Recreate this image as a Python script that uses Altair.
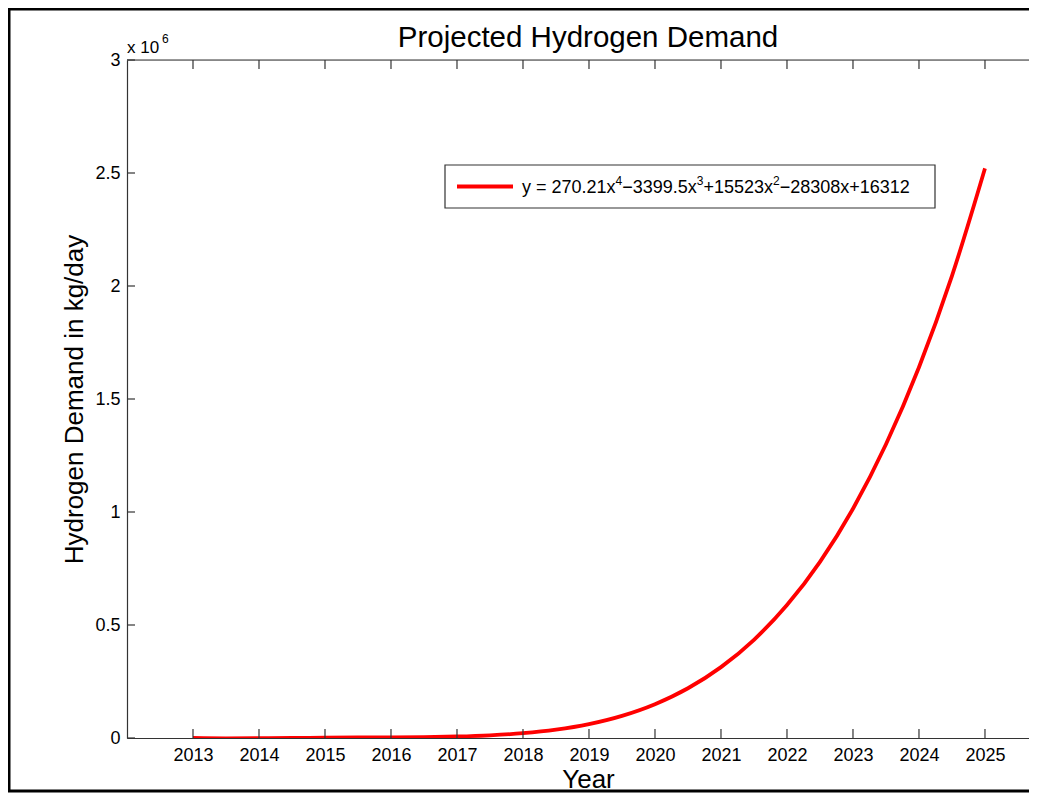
import altair as alt
import pandas as pd

# Values (kg/day)
years = [2013, 2013.5, 2014, 2014.5, 2015, 2015.5, 2016, 2016.5, 2017, 2017.5,
         2018, 2018.5, 2019, 2019.5, 2020, 2020.5, 2021, 2021.5, 2022, 2022.5,
         2023, 2023.5, 2024, 2024.5, 2025]
demand = [400, -1300, -1100, 0, 1200, 2200, 3100, 4300, 6800, 11900,
          21200, 36900, 61500, 98000, 149600, 220000, 313500, 434600, 588100, 779600,
          1014600, 1299500, 1640700, 2045200, 2520500]

# legend label pieces: (text, is_superscript)
label_parts = [("y = 270.21x", False), ("4", True), ("\u22123399.5x", False), ("3", True),
               ("+15523x", False), ("2", True), ("\u221228308x", False), ("+16312", False)]
title_text = "Projected Hydrogen Demand"
x_title = "Year"
y_title = "Hydrogen Demand in kg/day"
x_ticks = list(range(2013, 2026))
y_ticks = [0, 500000, 1000000, 1500000, 2000000, 2500000, 3000000]
x_domain = [2012, 2025.667]
y_domain = [0, 3000000]

W, H = 902, 678
FONT = "Liberation Sans"
AX = "#333333"
MAIN_FS, SUP_FS = 18, 12

# Arial/Liberation Sans advance widths (em)
CW = {"y": 0.5, "x": 0.5, " ": 0.278, "=": 0.584, "+": 0.584, "\u2212": 0.584, ".": 0.278}


def text_width(s, fs):
    return sum(CW.get(c, 0.556) for c in s) * fs


df = pd.DataFrame({"year": years, "demand": demand})
dfx = pd.DataFrame({"t": x_ticks})
dfy = pd.DataFrame({"t": y_ticks})
one = pd.DataFrame({"k": [0]})

xs = alt.Scale(domain=x_domain, nice=False, zero=False)
ys = alt.Scale(domain=y_domain, nice=False)

line = alt.Chart(df).mark_line(strokeWidth=3.8, clip=True, interpolate="monotone",
                               color="#ff0000").encode(
    x=alt.X("year:Q", scale=xs,
            axis=alt.Axis(values=x_ticks, format="d", ticks=False, grid=False,
                          domainColor=AX, domainWidth=1.2, labelFontSize=MAIN_FS,
                          labelFont=FONT, labelColor="black", labelPadding=8,
                          title=x_title, titleFont=FONT, titleFontSize=26,
                          titleFontWeight="normal", titleColor="black",
                          titlePadding=2, titleX=461)),
    y=alt.Y("demand:Q", scale=ys,
            axis=alt.Axis(values=y_ticks, labelExpr="datum.value / 1000000",
                          ticks=False, grid=False, domainColor=AX, domainWidth=1.2,
                          labelFontSize=MAIN_FS, labelFont=FONT, labelColor="black",
                          labelPadding=7, title=y_title, titleFont=FONT,
                          titleFontSize=26, titleFontWeight="normal",
                          titleColor="black", titlePadding=7)),
)

tick_bottom = alt.Chart(dfx).mark_rule(color=AX, strokeWidth=1.2).encode(
    x=alt.X("t:Q", scale=xs), y=alt.value(H), y2=alt.value(H - 9))
tick_top = alt.Chart(dfx).mark_rule(color=AX, strokeWidth=1.2).encode(
    x=alt.X("t:Q", scale=xs), y=alt.value(0), y2=alt.value(9))
tick_left = alt.Chart(dfy).mark_rule(color=AX, strokeWidth=1.2).encode(
    y=alt.Y("t:Q", scale=ys), x=alt.value(0), x2=alt.value(8))

top_line = alt.Chart(one).mark_rule(color=AX, strokeWidth=1.2).encode(
    x=alt.value(0), x2=alt.value(W), y=alt.value(0))

title = alt.Chart(one).mark_text(font=FONT, fontSize=29.5, align="center",
                                 baseline="middle", color="black").encode(
    x=alt.value(461), y=alt.value(-22), text=alt.value(title_text))

exp_base = alt.Chart(one).mark_text(font=FONT, fontSize=17, align="left",
                                    baseline="middle", color="black").encode(
    x=alt.value(0), y=alt.value(-12), text=alt.value("x 10"))
exp_sup = alt.Chart(one).mark_text(font=FONT, fontSize=12, align="left",
                                   baseline="middle", color="black").encode(
    x=alt.value(35), y=alt.value(-21), text=alt.value("6"))

# legend box
LX0, LX1, LY0, LY1 = 318, 808, 105, 148
LYC = (LY0 + LY1) / 2
leg_box = alt.Chart(one).mark_rect(fill="white", stroke=AX, strokeWidth=1.2).encode(
    x=alt.value(LX0), x2=alt.value(LX1), y=alt.value(LY0), y2=alt.value(LY1))
leg_line = alt.Chart(one).mark_rule(color="#ff0000", strokeWidth=3.8).encode(
    x=alt.value(LX0 + 12), x2=alt.value(LX0 + 68), y=alt.value(LYC))

leg_texts = []
cx = LX0 + 77
base_y = LYC + 6.5
for txt, sup in label_parts:
    fs = SUP_FS if sup else MAIN_FS
    yy = base_y - 8 if sup else base_y
    leg_texts.append(alt.Chart(one).mark_text(font=FONT, fontSize=fs, align="left",
                                              baseline="alphabetic", color="black").encode(
        x=alt.value(cx), y=alt.value(yy), text=alt.value(txt)))
    cx += text_width(txt, fs)

frame_l = alt.Chart(one).mark_rule(color="black", strokeWidth=3).encode(
    x=alt.value(-118), y=alt.value(-51), y2=alt.value(731))
frame_t = alt.Chart(one).mark_rule(color="black", strokeWidth=3).encode(
    x=alt.value(-119), x2=alt.value(W), y=alt.value(-51))
frame_b = alt.Chart(one).mark_rule(color="black", strokeWidth=3).encode(
    x=alt.value(-119), x2=alt.value(W), y=alt.value(731))

chart = alt.layer(line, tick_bottom, tick_top, tick_left, top_line, title,
                  exp_base, exp_sup, leg_box, leg_line, *leg_texts,
                  frame_l, frame_t, frame_b).properties(
    width=W, height=H,
    padding={"left": 119, "top": 52, "right": 0, "bottom": 55},
    autosize=alt.AutoSizeParams(type="none"),
).configure_view(stroke=None).configure(background="white")

chart.save("out.html", embed_options={"renderer": "svg", "actions": False})
